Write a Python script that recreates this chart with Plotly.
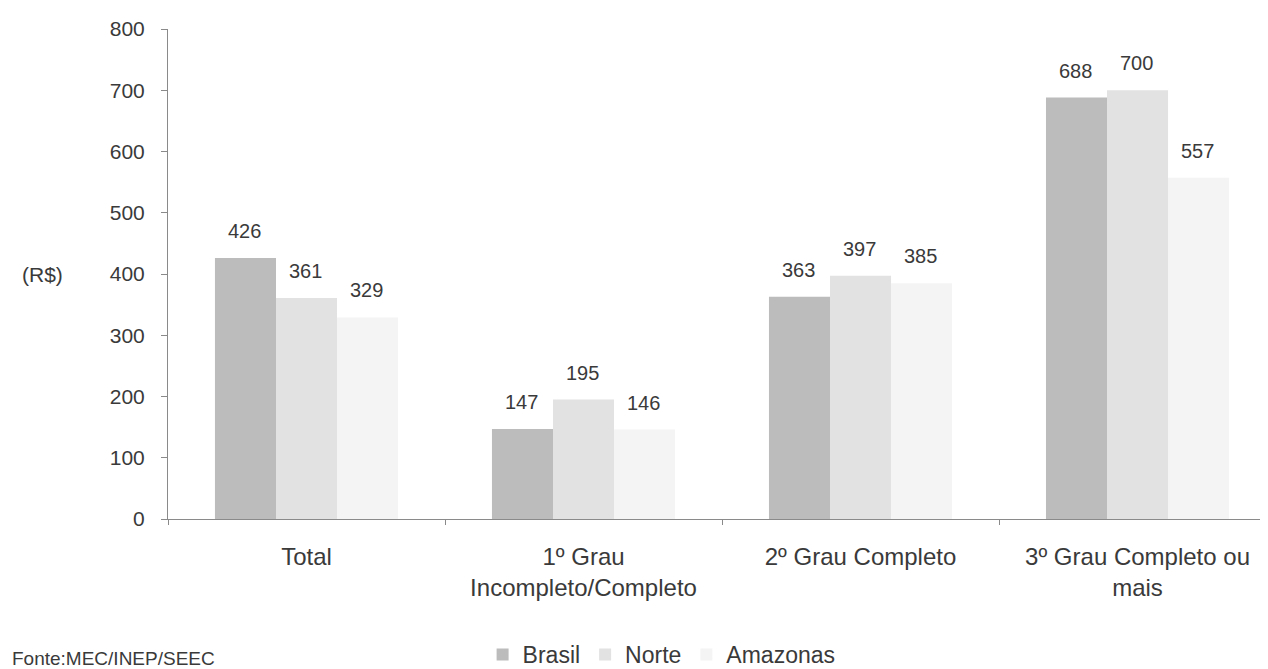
import plotly.graph_objects as go

categories = ["Total", "1º Grau<br>Incompleto/Completo", "2º Grau Completo", "3º Grau Completo ou<br>mais"]
series_names = ["Brasil", "Norte", "Amazonas"]
brasil = [426, 147, 363, 688]
norte = [361, 195, 397, 700]
amazonas = [329, 146, 385, 557]
y_ticks = [0, 100, 200, 300, 400, 500, 600, 700, 800]

series_values = [brasil, norte, amazonas]
colors = ["#bcbcbc", "#e2e2e2", "#f4f4f4"]
FONT = "Liberation Sans, Arial, sans-serif"
TXT = "#3a3a3a"

fig = go.Figure()
for name, vals, col in zip(series_names, series_values, colors):
    fig.add_trace(go.Bar(x=categories, y=vals, name=name, marker=dict(color=col, line=dict(width=0))))

annotations = []
bar_px = 61
for i, vals in enumerate(series_values):
    for c, v in zip(categories, vals):
        annotations.append(dict(x=c, y=v, xref="x", yref="y", text=str(v), showarrow=False,
                                xshift=(i - 1) * bar_px - 1, yshift=27, yanchor="middle",
                                font=dict(family=FONT, size=20, color=TXT)))

annotations.append(dict(x=0, y=400, xref="paper", yref="y", text="(R$)", showarrow=False,
                        xshift=-126, xanchor="center", yanchor="middle",
                        font=dict(family=FONT, size=21, color=TXT)))
annotations.append(dict(x=0, y=-0.2857, xref="paper", yref="paper", text="Fonte:MEC/INEP/SEEC", showarrow=False,
                        xanchor="left", yanchor="middle", xshift=-158,
                        font=dict(family=FONT, size=19, color=TXT)))

fig.update_layout(
    width=1260, height=661,
    margin=dict(l=160, r=0, t=21, b=150),
    paper_bgcolor="white", plot_bgcolor="white",
    barmode="group", bargap=0.339, bargroupgap=0,
    font=dict(family=FONT, size=20, color=TXT),
    annotations=annotations,
    showlegend=True,
    legend=dict(orientation="h", xref="paper", x=0.286, yref="container", y=0.022,
                xanchor="left", yanchor="middle",
                font=dict(family=FONT, size=23, color=TXT), itemwidth=30,
                bgcolor="rgba(0,0,0,0)", tracegroupgap=0),
    xaxis=dict(range=[-0.5, 3.471], showgrid=False, showline=True, linecolor="#8a8a8a", linewidth=1,
               ticks="outside", tickson="boundaries", ticklen=5, tickcolor="#8a8a8a",
               ticklabelstandoff=16,
               tickfont=dict(family=FONT, size=24, color=TXT), zeroline=False),
    yaxis=dict(range=[0, 800], tickvals=y_ticks, showgrid=False, showline=True,
               linecolor="#8a8a8a", linewidth=1, ticks="outside", ticklen=6,
               tickcolor="#8a8a8a", ticklabelstandoff=12, zeroline=False,
               tickfont=dict(family=FONT, size=21, color=TXT)),
)

fig.write_html("out.html")
